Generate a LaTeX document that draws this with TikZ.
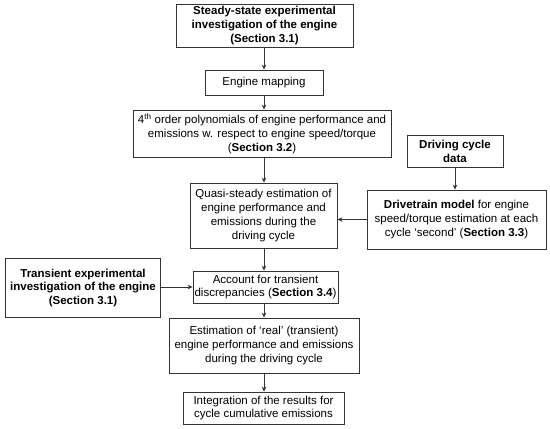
\documentclass[tikz,border=0pt]{standalone}
\usepackage{fontspec}
\setmainfont{Liberation Sans}
\usetikzlibrary{arrows.meta}
\tikzset{
  box/.style={draw=black!80, line width=0.8pt, align=center, inner sep=0pt,
    font=\fontsize{11.5}{13.8}\selectfont},
  arr/.style={draw=black!80, line width=0.8pt, -{Stealth[length=5pt,width=4.5pt]}}
}
\begin{document}
\begin{tikzpicture}[x=1pt,y=-1pt]
\useasboundingbox (0,0) rectangle (550,429);
\node[box, minimum width=177pt, minimum height=43pt] (steady) at (264.5,25.5)
  {\textbf{Steady-state experimental}\\\textbf{investigation of the engine}\\\textbf{(Section 3.1)}};
\node[box, minimum width=118pt, minimum height=25pt] (mapping) at (264,82.5)
  {Engine mapping};
\node[box, minimum width=258pt, minimum height=47pt] (poly) at (262,133.5)
  {4\textsuperscript{th} order polynomials of engine performance and\\emissions w. respect to engine speed/torque\\(\textbf{Section 3.2})};
\node[box, minimum width=147pt, minimum height=65pt] (quasi) at (263.5,215.5)
  {Quasi-steady estimation of\\engine performance and\\emissions during the\\driving cycle};
\node[box, minimum width=96pt, minimum height=32pt] (data) at (455,151)
  {\textbf{Driving cycle}\\\textbf{data}};
\node[box, minimum width=179pt, minimum height=59pt] (drivetrain) at (456.5,219.5)
  {\textbf{Drivetrain model} for engine\\speed/torque estimation at each\\cycle ‘second’ (\textbf{Section 3.3})};
\node[box, minimum width=155pt, minimum height=59pt] (transient) at (83,288)
  {\textbf{Transient experimental}\\\textbf{investigation of the engine}\\\textbf{(Section 3.1)}};
\node[box, minimum width=145pt, minimum height=32pt] (account) at (265.5,287)
  {Account for transient\\discrepancies (\textbf{Section 3.4})};
\node[box, minimum width=190pt, minimum height=55pt] (estim) at (264,345.5)
  {Estimation of ‘real’ (transient)\\engine performance and emissions\\during the driving cycle};
\node[box, minimum width=161pt, minimum height=32pt] (integ) at (263.5,408)
  {Integration of the results for\\cycle cumulative emissions};
\coordinate (cx) at (264,0);
\draw[arr] (steady.south -| cx) -- (mapping.north -| cx);
\draw[arr] (mapping.south -| cx) -- (poly.north -| cx);
\draw[arr] (poly.south -| cx) -- (quasi.north -| cx);
\draw[arr] (quasi.south -| cx) -- (account.north -| cx);
\draw[arr] (account.south -| cx) -- (estim.north -| cx);
\draw[arr] (estim.south -| cx) -- (integ.north -| cx);
\draw[arr] (data.south) -- (data.south |- drivetrain.north);
\draw[arr] (drivetrain.west) -- (drivetrain.west -| quasi.east);
\draw[arr] (transient.east |- account.west) -- (account.west);
\end{tikzpicture}
\end{document}
